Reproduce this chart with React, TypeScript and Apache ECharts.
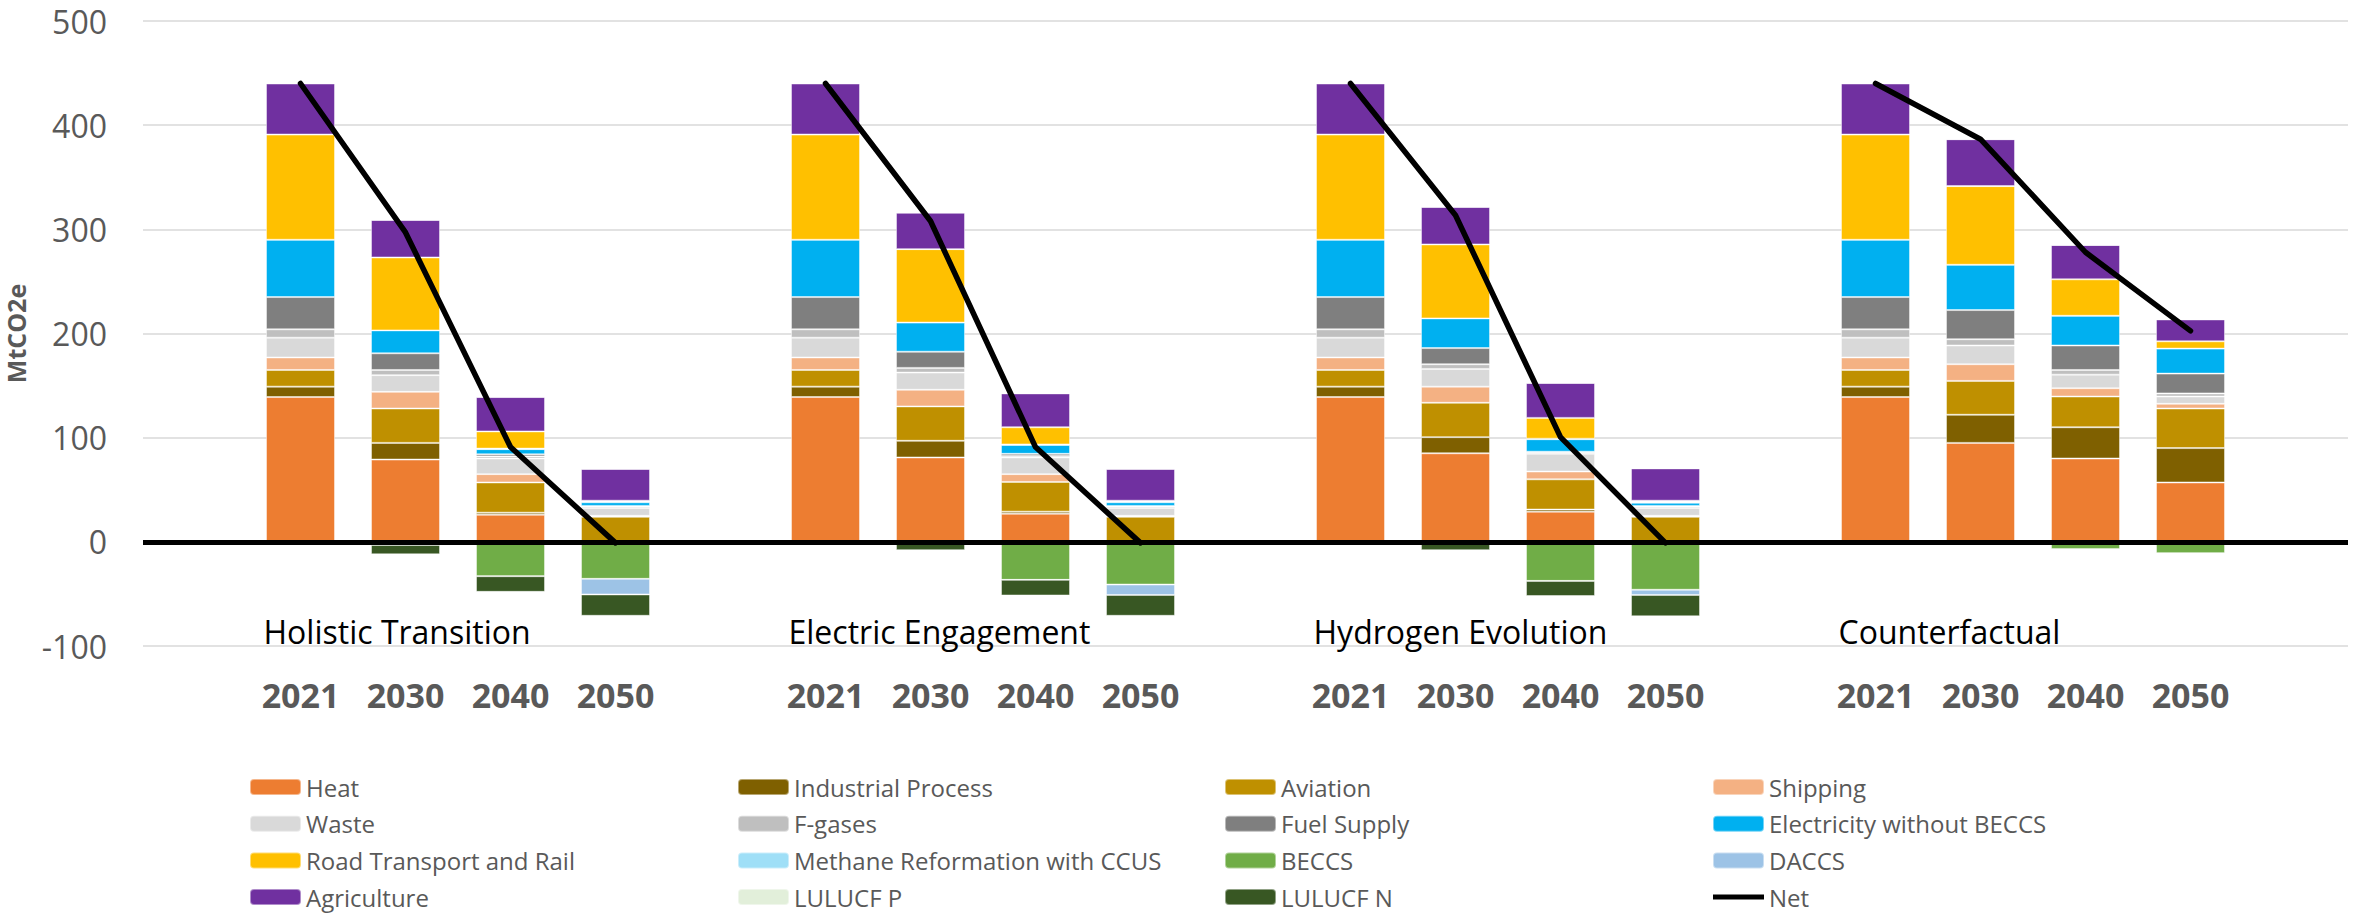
import React, { useEffect, useRef } from "react";
import * as echarts from "echarts";

// Scenarios and the modelled years shown for each
const scenarios = ["Holistic Transition", "Electric Engagement", "Hydrogen Evolution", "Counterfactual"];
const years = ["2021", "2030", "2040", "2050"];

// Emissions by sector, MtCO2e, ordered scenario by scenario, year by year
const heat = [139, 79, 26, 0, 139, 81, 27, 0, 139, 85, 29, 0, 139, 95, 80, 57];
const industrialProcess = [10, 16, 2, 0, 10, 16, 2, 0, 10, 15.5, 2, 0, 10, 27, 30, 33];
const aviation = [16, 33, 29, 24, 16, 33, 28.5, 24, 16, 33, 29, 24, 16, 32.5, 29.5, 38];
const shipping = [12, 16, 8, 1, 12, 16, 7.5, 1, 12, 15.5, 7.5, 1, 12, 16, 8, 4.5];
const waste = [19, 16, 15, 7.5, 19, 16.5, 16, 7.5, 19, 17, 17, 7.5, 19, 18, 13, 7];
const fGases = [8, 5, 2, 1.5, 8, 4.5, 1.5, 1.5, 8, 4.5, 1.5, 1.5, 8, 6, 4.5, 3];
const fuelSupply = [31, 16, 2, 0.5, 31, 15.5, 2, 0.5, 31, 15.5, 0.5, 0.5, 31, 28, 23.5, 19];
const electricity = [55, 22, 5, 3.5, 55, 28, 8.5, 3.5, 55, 28.5, 12, 3, 55, 43.5, 28.5, 24];
const methaneReformation = [0, 0, 0.5, 1, 0, 0, 0.5, 1, 0, 0, 0.5, 1, 0, 0, 0, 0];
const roadTransport = [101, 70, 16.5, 0.5, 101, 70.5, 16.5, 0.5, 101, 71, 20, 1, 101, 75.5, 35, 7];
const beccs = [0, -3, -33, -35.5, 0, 0, -36.5, -41, 0, 0, -37.5, -46, 0, 0, -7, -11];
const daccs = [0, 0, 0, -15, 0, 0, 0, -10, 0, 0, 0, -5, 0, 0, 0, 0];
const agriculture = [49, 36, 33, 30.5, 49, 35, 32.5, 30.5, 49, 36, 33.5, 31, 49, 45, 33, 21];
const lulucfP = [0, 0, 0, 0, 0, 0, 0, 0, 0, 0, 0, 0, 0, 0, 0, 0];
const lulucfN = [0, -9, -15, -20.5, 0, -8, -15, -20, 0, -8, -14.5, -20.5, 0, 0, 0, 0];
const net = [440, 297, 91, -1, 440, 308, 91, -1, 440, 313.5, 100.5, -1, 440, 386.5, 278, 202.5];

// Y axis ticks
const yMin = -100;
const yMax = 500;
const yStep = 100;

// Stacking order, bottom to top
const sectors: { name: string; values: number[]; color: string }[] = [
  { name: "Heat", values: heat, color: "#ED7D31" },
  { name: "Industrial Process", values: industrialProcess, color: "#7F6000" },
  { name: "Aviation", values: aviation, color: "#BF9000" },
  { name: "Shipping", values: shipping, color: "#F4B183" },
  { name: "Waste", values: waste, color: "#D9D9D9" },
  { name: "F-gases", values: fGases, color: "#BFBFBF" },
  { name: "Fuel Supply", values: fuelSupply, color: "#7F7F7F" },
  { name: "Electricity without BECCS", values: electricity, color: "#00B0F0" },
  { name: "Methane Reformation with CCUS", values: methaneReformation, color: "#9FDFF7" },
  { name: "Road Transport and Rail", values: roadTransport, color: "#FFC000" },
  { name: "BECCS", values: beccs, color: "#70AD47" },
  { name: "DACCS", values: daccs, color: "#9DC3E6" },
  { name: "Agriculture", values: agriculture, color: "#7030A0" },
  { name: "LULUCF P", values: lulucfP, color: "#E2EFDA" },
  { name: "LULUCF N", values: lulucfN, color: "#385723" },
];

// Legend columns, top to bottom
const legendColumns: (string | { name: string; icon: string; itemStyle: object })[][] = [
  ["Heat", "Waste", "Road Transport and Rail", "Agriculture"],
  ["Industrial Process", "F-gases", "Methane Reformation with CCUS", "LULUCF P"],
  ["Aviation", "Fuel Supply", "BECCS", "LULUCF N"],
  [
    "Shipping",
    "Electricity without BECCS",
    "DACCS",
    { name: "Net", icon: "path://M0,0H51V5H0Z", itemStyle: { color: "#000", borderWidth: 0 } },
  ],
];
const legendLefts = [249, 737, 1224, 1712];

// Category slots: a blank slot before the first scenario and after each one
const slotLabels: string[] = [""];
const slotIndexOf: number[] = [];
scenarios.forEach(() => {
  years.forEach((y) => {
    slotIndexOf.push(slotLabels.length);
    slotLabels.push(y);
  });
  slotLabels.push("");
});

function toSlots(values: number[]): (number | null)[] {
  const out: (number | null)[] = slotLabels.map(() => null);
  values.forEach((v, i) => {
    out[slotIndexOf[i]] = v;
  });
  return out;
}

const FONT = '"Open Sans", "Noto Sans", sans-serif';
const GREY = "#595959";

export default function App() {
  const ref = useRef<HTMLDivElement>(null);

  useEffect(() => {
    if (!ref.current) return;
    const chart = echarts.init(ref.current, undefined, { renderer: "svg" });

    const barSeries = sectors.map((s, i) => ({
      name: s.name,
      type: "bar",
      stack: "emissions",
      barWidth: 69,
      itemStyle: { color: s.color, borderColor: "rgba(255,255,255,0.45)", borderWidth: 1 },
      data: toSlots(s.values),
      ...(i === 0
        ? {
            markLine: {
              silent: true,
              symbol: "none",
              label: { show: false },
              lineStyle: { color: "#000", width: 5, type: "solid" },
              data: [{ yAxis: 0 }],
              z: 5,
            },
          }
        : {}),
    }));

    chart.setOption({
      animation: false,
      textStyle: { fontFamily: FONT },
      grid: {
        left: 143,
        right: 8,
        top: 21,
        bottom: 269,
        containLabel: false,
        outerBoundsMode: "none",
      },
      legend: legendColumns.map((col, c) => ({
        data: col,
        orient: "vertical",
        left: legendLefts[c],
        top: 775,
        height: 140,
        padding: 0,
        itemWidth: 51,
        itemHeight: 16,
        itemGap: 12.7,
        selectedMode: false,
        textStyle: { fontSize: 24, lineHeight: 24, color: GREY, fontFamily: FONT },
      })),
      xAxis: {
        type: "category",
        data: slotLabels,
        axisLine: { show: false, onZero: false },
        axisTick: { show: false },
        axisLabel: {
          interval: 0,
          margin: 32,
          fontSize: 34,
          fontWeight: "bold",
          color: GREY,
          fontFamily: FONT,
        },
      },
      yAxis: {
        type: "value",
        min: yMin,
        max: yMax,
        interval: yStep,
        name: "MtCO2e",
        nameLocation: "middle",
        nameRotate: 90,
        nameGap: 115,
        nameTextStyle: { fontSize: 25, fontWeight: "bold", color: GREY, fontFamily: FONT },
        axisLine: { show: false },
        axisTick: { show: false },
        axisLabel: { fontSize: 32, color: GREY, margin: 36, fontFamily: FONT },
        splitLine: { lineStyle: { color: "#D9D9D9", width: 1.5 } },
      },
      series: [
        ...barSeries,
        {
          name: "Net",
          type: "line",
          data: toSlots(net),
          symbol: "none",
          connectNulls: false,
          itemStyle: { color: "#000" },
          lineStyle: { color: "#000", width: 5.5, cap: "round", join: "round" },
          z: 6,
        },
      ],
    });

    // Scenario names, placed beneath each group's first bar
    const labelY = chart.convertToPixel({ yAxisIndex: 0 }, -86) as number;
    chart.setOption({
      graphic: scenarios.map((name, s) => {
        const cx = chart.convertToPixel({ xAxisIndex: 0 }, slotIndexOf[s * 4]) as number;
        return {
          type: "text",
          x: cx - 37,
          y: labelY,
          silent: true,
          style: {
            text: name,
            fill: "#000",
            fontSize: 32,
            fontFamily: FONT,
            align: "left",
            verticalAlign: "middle",
          },
        };
      }),
    });

    return () => chart.dispose();
  }, []);

  return (
    <div
      ref={ref}
      style={{ position: "fixed", left: 0, top: 0, width: 2356, height: 915, background: "#fff" }}
    />
  );
}
